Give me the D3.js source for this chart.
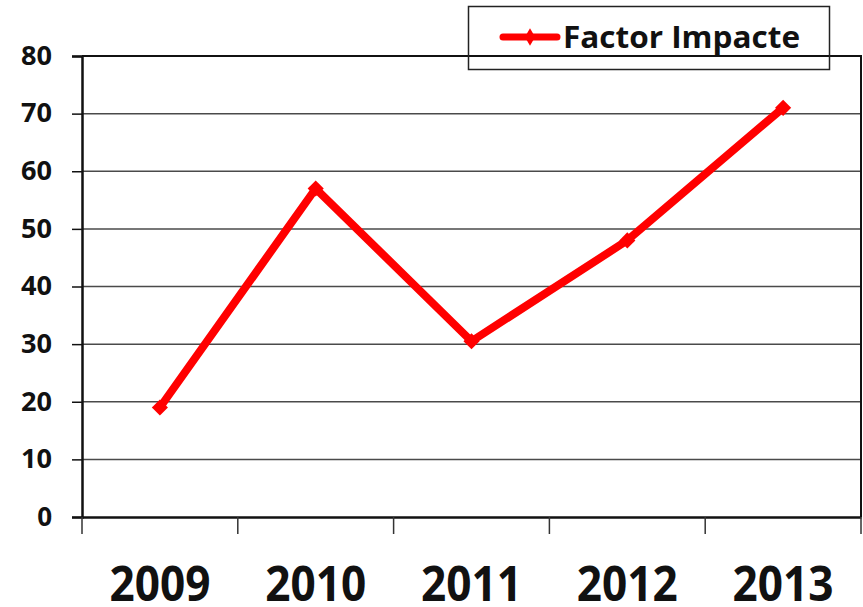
<!DOCTYPE html>
<html>
<head>
<meta charset="utf-8">
<script src="https://cdn.jsdelivr.net/npm/d3@7"></script>
<style>
  body { margin: 0; background: #fff; }
  text { font-family: "Open Sans", "Liberation Sans", sans-serif; font-weight: bold; }
</style>
</head>
<body>
<div class="chart"></div>
<script>
const years = ['2009', '2010', '2011', '2012', '2013'];
const impact = [19, 57, 30.5, 48, 71];
const yTicks = [0, 10, 20, 30, 40, 50, 60, 70, 80];
const seriesName = 'Factor Impacte';

const width = 863, height = 607;
const margin = { top: 56, right: 2, bottom: 90, left: 82 };

const svg = d3.select('.chart').append('svg')
    .attr('width', width)
    .attr('height', height);

const x = d3.scaleBand()
    .domain(years)
    .range([margin.left, width - margin.right]);

const y = d3.scaleLinear()
    .domain([0, 80])
    .range([height - margin.bottom, margin.top]);

// grid lines
svg.append('g')
    .selectAll('line')
    .data(yTicks.filter(d => d > 0 && d < 80))
    .join('line')
    .attr('x1', margin.left)
    .attr('x2', width - margin.right)
    .attr('y1', d => y(d))
    .attr('y2', d => y(d))
    .attr('stroke', '#4a4a4a')
    .attr('stroke-width', 1.5);

// top + right border
svg.append('path')
    .attr('d', `M${margin.left},${y(80)}H${width - margin.right}V${y(0)}`)
    .attr('fill', 'none')
    .attr('stroke', '#111')
    .attr('stroke-width', 2);

// y axis
const yAxis = svg.append('g')
    .attr('transform', `translate(${margin.left},0)`)
    .call(d3.axisLeft(y).tickValues(yTicks).tickSize(10).tickPadding(20));
yAxis.select('.domain').attr('stroke', '#111').attr('stroke-width', 2.5);
yAxis.selectAll('.tick line').attr('stroke', '#111').attr('stroke-width', 1.5);
yAxis.selectAll('.tick text')
    .attr('font-size', 26)
    .attr('fill', '#111')
    .attr('textLength', 31)
    .attr('lengthAdjust', 'spacingAndGlyphs')
    .style('font-family', '"Open Sans", sans-serif');
yAxis.selectAll('.tick text').filter(d => d === 0).attr('textLength', null);

// x axis
const xAxis = svg.append('g')
    .attr('transform', `translate(0,${y(0)})`)
    .call(d3.axisBottom(x).tickSize(0).tickPadding(0));
xAxis.select('.domain').attr('stroke', '#111').attr('stroke-width', 2.5);
xAxis.selectAll('.tick text')
    .attr('font-size', 48)
    .attr('fill', '#111')
    .attr('dy', 0)
    .attr('y', 84)
    .attr('textLength', 101)
    .attr('lengthAdjust', 'spacingAndGlyphs')
    .style('font-family', '"Open Sans", sans-serif');

// category boundary ticks
svg.append('g')
    .selectAll('line')
    .data(years.concat(['end']))
    .join('line')
    .attr('x1', (d, i) => i < years.length ? x(d) : x(years[years.length - 1]) + x.bandwidth())
    .attr('x2', (d, i) => i < years.length ? x(d) : x(years[years.length - 1]) + x.bandwidth())
    .attr('y1', y(0))
    .attr('y2', y(0) + 17)
    .attr('stroke', '#333')
    .attr('stroke-width', 1.5);

// line
const line = d3.line()
    .x((d, i) => x(years[i]) + x.bandwidth() / 2)
    .y(d => y(d));

svg.append('path')
    .datum(impact)
    .attr('d', line)
    .attr('fill', 'none')
    .attr('stroke', '#ff0000')
    .attr('stroke-width', 8)
    .attr('stroke-linejoin', 'miter');

svg.append('g')
    .selectAll('path')
    .data(impact)
    .join('path')
    .attr('d', d3.symbol(d3.symbolSquare, 130))
    .attr('transform', (d, i) => `translate(${x(years[i]) + x.bandwidth() / 2},${y(d)}) rotate(45)`)
    .attr('fill', '#ff0000');

// legend
const legend = svg.append('g');
legend.append('rect')
    .attr('x', 468.5)
    .attr('y', 6.5)
    .attr('width', 361)
    .attr('height', 63)
    .attr('fill', 'none')
    .attr('stroke', '#222')
    .attr('stroke-width', 1.5);
legend.append('line')
    .attr('x1', 503).attr('x2', 557)
    .attr('y1', 37).attr('y2', 37)
    .attr('stroke', '#ff0000')
    .attr('stroke-width', 7)
    .attr('stroke-linecap', 'round');
legend.append('path')
    .attr('d', d3.symbol(d3.symbolDiamond, 90))
    .attr('transform', 'translate(530,37)')
    .attr('fill', '#ff0000');
legend.append('text')
    .attr('x', 563)
    .attr('y', 48)
    .attr('font-size', 31)
    .attr('fill', '#111')
    .attr('textLength', 237)
    .attr('lengthAdjust', 'spacingAndGlyphs')
    .text(seriesName);
</script>
</body>
</html>
